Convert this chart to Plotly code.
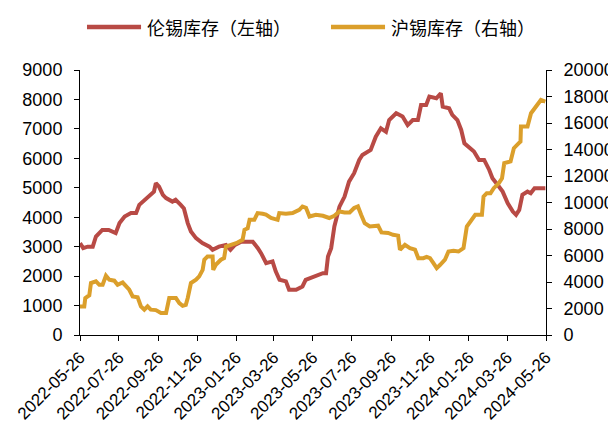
import pandas as pd
import plotly.graph_objects as go

START = "2022-05-26"

# LME tin stocks (left axis): day offsets from START and values
lme_days = [0, 5, 12, 20, 25, 35, 45, 56, 62, 70, 80, 88, 93, 101, 109, 116, 119, 124, 130, 135,
            145, 150, 158, 163, 169, 174, 182, 192, 203, 208, 218, 229, 236, 243, 253, 261, 271,
            279, 284, 292, 302, 307, 313, 323, 328, 339, 349, 354, 370, 381, 386, 389, 394, 399,
            407, 415, 422, 430, 438, 443, 456, 464, 472, 480, 485, 496, 506, 514, 522, 530, 535,
            543, 548, 559, 566, 569, 579, 584, 592, 598, 603, 611, 618, 626, 634, 642, 647, 655,
            663, 671, 679, 684, 689, 694, 702, 707, 713, 721, 730]
lme_vals = [3120, 2950, 3000, 3000, 3345, 3570, 3570, 3460, 3800, 4025, 4140, 4140, 4420, 4590,
            4760, 4870, 5155, 5040, 4760, 4650, 4530, 4590, 4420, 4300, 3800, 3515, 3290, 3120,
            3000, 2895, 3000, 3060, 2895, 3060, 3170, 3170, 3170, 2950, 2780, 2440, 2500, 2160,
            1875, 1820, 1535, 1535, 1650, 1875, 1990, 2100, 2100, 2665, 2950, 3685, 4360, 4700,
            5210, 5495, 5945, 6115, 6285, 6735, 7020, 6900, 7300, 7530, 7420, 7130, 7300, 7300,
            7810, 7810, 8095, 8040, 8210, 7755, 7700, 7475, 7300, 6965, 6510, 6340, 6230, 5945,
            5945, 5605, 5325, 5100, 4870, 4475, 4190, 4080, 4250, 4760, 4870, 4815, 4985, 4985,
            4985]

# SHFE tin stocks (right axis)
shfe_days = [0, 6.7, 8.3, 14.6, 17.2, 25, 30.3, 35.5, 40.7, 46, 53.8, 59, 66.9, 72, 77.3, 82.6,
             90.4, 95.6, 100.9, 106, 111, 119, 127, 135, 140, 150.5, 155.8, 161, 166, 169, 174,
             182, 187, 192.4, 195, 200, 208, 209, 213, 221, 226, 229, 237, 245, 255, 258, 263,
             266, 273.4, 278.6, 286.5, 291.7, 299.6, 310, 312.6, 323, 333.5, 344, 349, 354.5,
             360, 370, 381, 391, 399, 407, 415, 423, 430, 436, 441, 446.6, 454.5, 467.6, 472.9,
             483.4, 491, 499, 501.9, 509.7, 517.6, 525.5, 530.7, 538.6, 543.8, 549, 554.4, 559.6,
             565, 572.5, 578, 585.9, 593.7, 601.6, 606.8, 612, 620, 630.5, 633, 638, 643.9, 649,
             657, 662, 665.5, 675.4, 680.6, 688.4, 691, 691.7, 702, 707.5, 715.3, 723, 730]
shfe_vals = [2160, 2160, 2790, 3000, 3920, 4050, 3790, 3790, 4470, 4170, 4100, 3790, 3960, 3670,
             3415, 2910, 2850, 2160, 1910, 2160, 1910, 1880, 1660, 1660, 2790, 2790, 2410, 2210,
             2280, 2790, 3920, 4170, 4420, 4920, 5680, 5930, 5930, 4920, 5300, 5680, 5800, 6680,
             6800, 6930, 7180, 7940, 8050, 8690, 8690, 9200, 9150, 9080, 8830, 8690, 9200, 9150,
             9200, 9450, 9700, 9600, 8940, 9070, 9000, 8830, 9000, 9320, 9250, 9250, 9580, 9700,
             9070, 8440, 8190, 8250, 7740, 7700, 7560, 7500, 6430, 6810, 6560, 6450, 5800, 5800,
             5900, 5800, 5430, 5050, 5300, 5680, 6300, 6350, 6300, 6560, 8190, 8570, 9070, 9070,
             10450, 10700, 10700, 11080, 11460, 11830, 12970, 13100, 14100, 14480, 14600, 15730,
             15730, 16740, 17240, 17740, 17620]

tick_dates = ["2022-05-26", "2022-07-26", "2022-09-26", "2022-11-26", "2023-01-26",
              "2023-03-26", "2023-05-26", "2023-07-26", "2023-09-26", "2023-11-26",
              "2024-01-26", "2024-03-26", "2024-05-26"]

series_names = ["伦锡库存（左轴）", "沪锡库存（右轴）"]

start = pd.Timestamp(START)
lme_dates = [start + pd.Timedelta(days=d) for d in lme_days]
shfe_dates = [start + pd.Timedelta(days=d) for d in shfe_days]

RED = "#B84A45"
GOLD = "#DB9F2B"
YFONT = dict(family="Liberation Sans, Arial, sans-serif", size=18, color="#000000")
XFONT = dict(family="Liberation Sans, Arial, sans-serif", size=17, color="#000000")
LFONT = dict(family="Noto Sans CJK SC, sans-serif", size=18, color="#000000")

fig = go.Figure()
fig.add_trace(go.Scatter(x=lme_dates, y=lme_vals, mode="lines", name=series_names[0],
                         line=dict(color=RED, width=4)))
fig.add_trace(go.Scatter(x=shfe_dates, y=shfe_vals, mode="lines", name=series_names[1],
                         line=dict(color=GOLD, width=4), yaxis="y2"))

# custom legend (line sample + label) above the plot
legend_items = [(series_names[0], RED, 0.015), (series_names[1], GOLD, 0.5386)]
for name, color, x0 in legend_items:
    fig.add_shape(type="line", xref="paper", yref="paper", x0=x0, x1=x0 + 0.116,
                  y0=1.162, y1=1.162, line=dict(color=color, width=4.5))
    fig.add_annotation(xref="paper", yref="paper", x=x0 + 0.124, y=1.162, text=name,
                       showarrow=False, xanchor="left", yanchor="middle", font=LFONT)

axis_common = dict(showline=True, linecolor="#000000", linewidth=1, ticks="outside",
                   ticklen=5, tickcolor="#000000", showgrid=False, zeroline=False,
                   automargin=False)

fig.update_layout(
    width=616, height=423,
    margin=dict(l=72, r=78, t=62, b=96, autoexpand=False),
    paper_bgcolor="white", plot_bgcolor="white",
    showlegend=False,
    xaxis=dict(type="date", range=[tick_dates[0], tick_dates[-1]], tickmode="array",
               tickvals=tick_dates, ticktext=tick_dates, tickangle=-45, tickfont=XFONT,
               **axis_common),
    yaxis=dict(range=[0, 9000], dtick=1000, tickformat="d", tickfont=YFONT,
               ticklabelstandoff=8, **axis_common),
    yaxis2=dict(range=[0, 20000], dtick=2000, tickformat="d", overlaying="y", side="right",
                tickfont=YFONT, ticklabelstandoff=8, **axis_common),
)

fig.write_html("out.html")
